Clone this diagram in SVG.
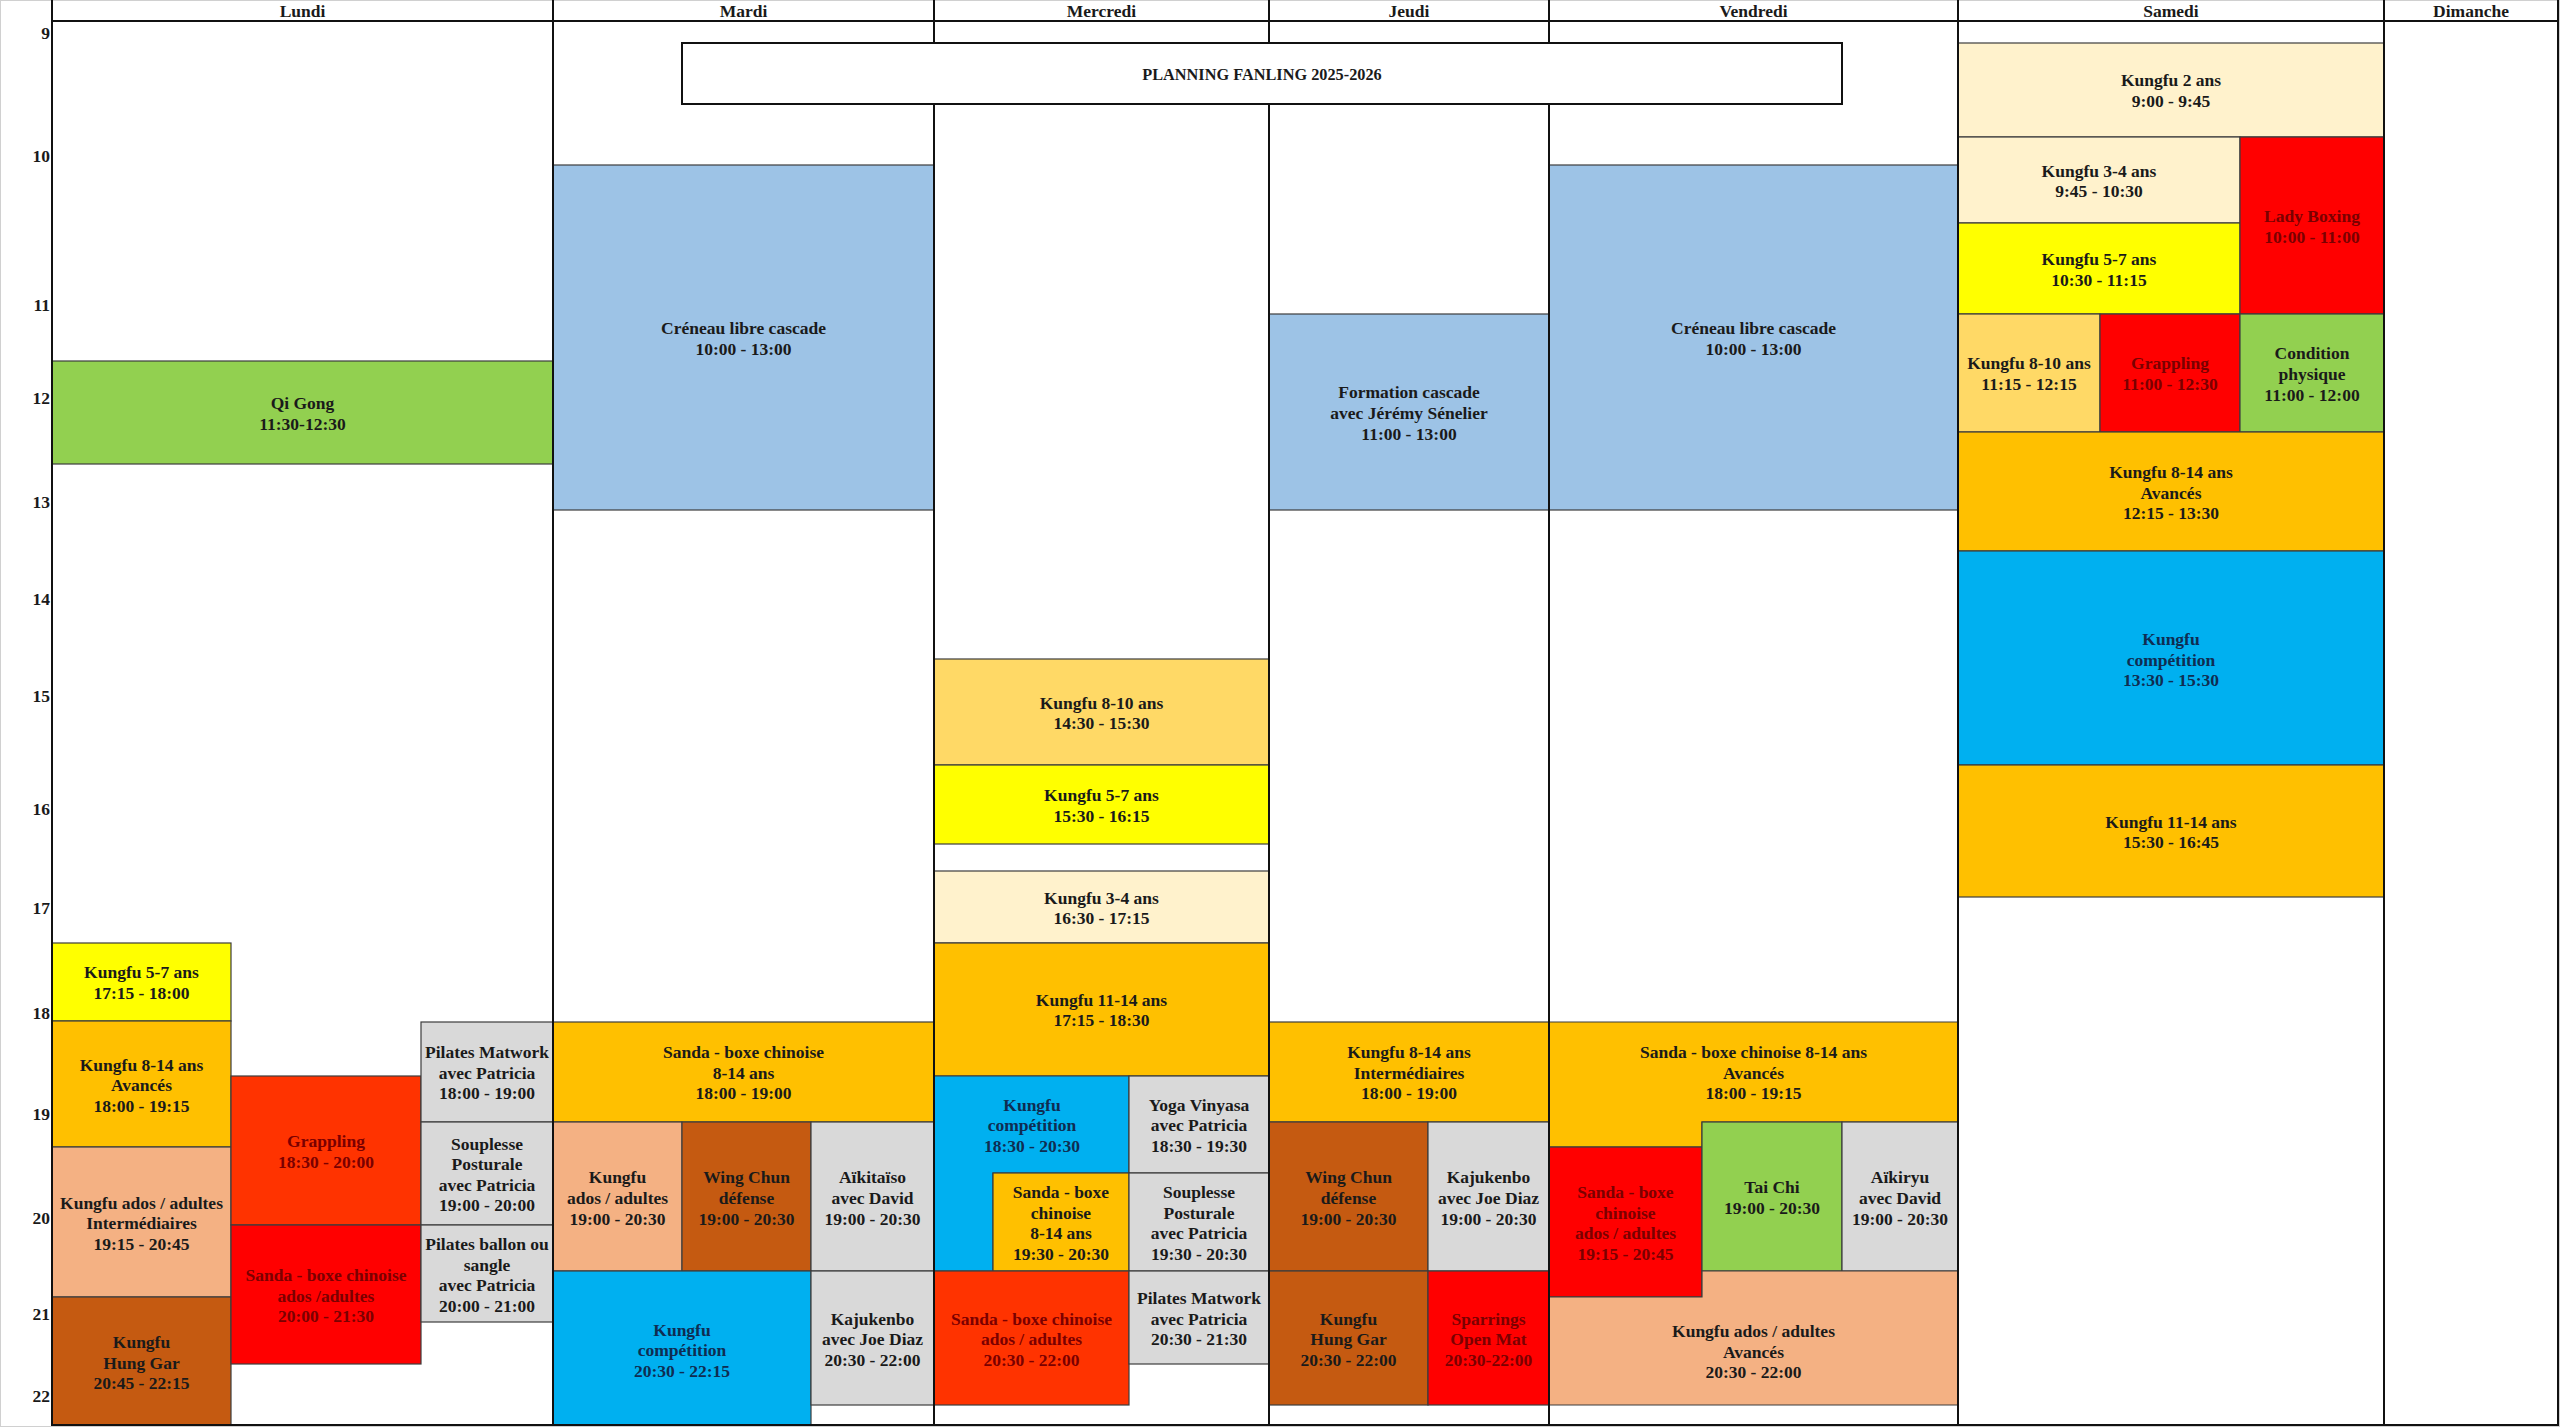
<svg xmlns="http://www.w3.org/2000/svg" width="2560" height="1427" viewBox="0 0 2560 1427">
<style>
.t{font-family:"Liberation Serif","Times New Roman",serif;font-weight:bold;font-size:17.5px;text-anchor:middle;fill:#1a1a1a}
.h{text-anchor:end}
.dr{fill:#7a0000}
.nv{fill:#0f2d52}
.b{stroke:#3c3c3c;stroke-width:1.2}
.blue{fill:#9DC3E6}.green{fill:#92D050}.yel{fill:#FFFF00}.gold{fill:#FFC000}.lgold{fill:#FFD966}
.cream{fill:#FFF2CC}.red{fill:#FF0000}.ored{fill:#FF3300}.peach{fill:#F4B183}.brown{fill:#C55A11}
.gray{fill:#D9D9D9}.cyan{fill:#00B0F0}
.grid{stroke:#111;stroke-width:2;fill:none}
</style>
<rect x="0" y="0" width="2560" height="1427" fill="#ffffff"/>
<rect x="0.5" y="0.5" width="2559" height="1426" fill="none" stroke="#d0d0d0" stroke-width="1"/>

<g id="hours" class="t">
<text class="t h" x="50" y="39">9</text>
<text class="t h" x="50" y="162">10</text>
<text class="t h" x="50" y="311">11</text>
<text class="t h" x="50" y="404">12</text>
<text class="t h" x="50" y="508">13</text>
<text class="t h" x="50" y="605">14</text>
<text class="t h" x="50" y="702">15</text>
<text class="t h" x="50" y="815">16</text>
<text class="t h" x="50" y="914">17</text>
<text class="t h" x="50" y="1019">18</text>
<text class="t h" x="50" y="1120">19</text>
<text class="t h" x="50" y="1224">20</text>
<text class="t h" x="50" y="1320">21</text>
<text class="t h" x="50" y="1402">22</text>
</g>

<g id="headers">
<text class="t" x="302.5" y="17">Lundi</text>
<text class="t" x="743.5" y="17">Mardi</text>
<text class="t" x="1101.5" y="17">Mercredi</text>
<text class="t" x="1409" y="17">Jeudi</text>
<text class="t" x="1753.5" y="17">Vendredi</text>
<text class="t" x="2171" y="17">Samedi</text>
<text class="t" x="2471" y="17">Dimanche</text>
</g>

<!-- Lundi -->
<g id="l-qigong"><rect class="green b" x="52" y="361" width="501" height="103"/>
<text class="t"><tspan x="302.5" y="409">Qi Gong</tspan><tspan x="302.5" y="430">11:30-12:30</tspan></text></g>
<g id="l-kungfu57"><rect class="yel b" x="52" y="943" width="179" height="78"/>
<text class="t"><tspan x="141.5" y="978">Kungfu 5-7 ans</tspan><tspan x="141.5" y="999">17:15 - 18:00</tspan></text></g>
<g id="l-kungfu814"><rect class="gold b" x="52" y="1021" width="179" height="126"/>
<text class="t"><tspan x="141.5" y="1071">Kungfu 8-14 ans</tspan><tspan x="141.5" y="1091">Avancés</tspan><tspan x="141.5" y="1112">18:00 - 19:15</tspan></text></g>
<g id="l-kungfu-inter"><rect class="peach b" x="52" y="1147" width="179" height="150"/>
<text class="t"><tspan x="141.5" y="1209">Kungfu ados / adultes</tspan><tspan x="141.5" y="1229">Intermédiaires</tspan><tspan x="141.5" y="1250">19:15 - 20:45</tspan></text></g>
<g id="l-hunggar"><rect class="brown b" x="52" y="1297" width="179" height="128"/>
<text class="t"><tspan x="141.5" y="1348">Kungfu</tspan><tspan x="141.5" y="1369">Hung Gar</tspan><tspan x="141.5" y="1389">20:45 - 22:15</tspan></text></g>
<g id="l-grappling"><rect class="ored b" x="231" y="1076" width="190" height="149"/>
<text class="t dr"><tspan x="326" y="1147">Grappling</tspan><tspan x="326" y="1168">18:30 - 20:00</tspan></text></g>
<g id="l-sanda"><rect class="red b" x="231" y="1225" width="190" height="139"/>
<text class="t dr"><tspan x="326" y="1281">Sanda - boxe chinoise</tspan><tspan x="326" y="1302">ados /adultes</tspan><tspan x="326" y="1322">20:00 - 21:30</tspan></text></g>
<g id="l-pilates1"><rect class="gray b" x="421" y="1022" width="132" height="100"/>
<text class="t"><tspan x="487" y="1058">Pilates Matwork</tspan><tspan x="487" y="1079">avec Patricia</tspan><tspan x="487" y="1099">18:00 - 19:00</tspan></text></g>
<g id="l-souplesse"><rect class="gray b" x="421" y="1122" width="132" height="103"/>
<text class="t"><tspan x="487" y="1150">Souplesse</tspan><tspan x="487" y="1170">Posturale</tspan><tspan x="487" y="1191">avec Patricia</tspan><tspan x="487" y="1211">19:00 - 20:00</tspan></text></g>
<g id="l-pilates2"><rect class="gray b" x="421" y="1225" width="132" height="97"/>
<text class="t"><tspan x="487" y="1250">Pilates ballon ou</tspan><tspan x="487" y="1271">sangle</tspan><tspan x="487" y="1291">avec Patricia</tspan><tspan x="487" y="1312">20:00 - 21:00</tspan></text></g>

<!-- Mardi -->
<g id="ma-creneau"><rect class="blue b" x="553" y="165" width="381" height="345"/>
<text class="t"><tspan x="743.5" y="334">Créneau libre cascade</tspan><tspan x="743.5" y="355">10:00 - 13:00</tspan></text></g>
<g id="ma-sanda"><rect class="gold b" x="553" y="1022" width="381" height="100"/>
<text class="t"><tspan x="743.5" y="1058">Sanda - boxe chinoise</tspan><tspan x="743.5" y="1079">8-14 ans</tspan><tspan x="743.5" y="1099">18:00 - 19:00</tspan></text></g>
<g id="ma-kungfu-adultes"><rect class="peach b" x="553" y="1122" width="129" height="149"/>
<text class="t"><tspan x="617.5" y="1183">Kungfu</tspan><tspan x="617.5" y="1204">ados / adultes</tspan><tspan x="617.5" y="1225">19:00 - 20:30</tspan></text></g>
<g id="ma-wingchun"><rect class="brown b" x="682" y="1122" width="129" height="149"/>
<text class="t"><tspan x="746.5" y="1183">Wing Chun</tspan><tspan x="746.5" y="1204">défense</tspan><tspan x="746.5" y="1225">19:00 - 20:30</tspan></text></g>
<g id="ma-aikitaiso"><rect class="gray b" x="811" y="1122" width="123" height="149"/>
<text class="t"><tspan x="872.5" y="1183">Aïkitaïso</tspan><tspan x="872.5" y="1204">avec David</tspan><tspan x="872.5" y="1225">19:00 - 20:30</tspan></text></g>
<g id="ma-competition"><rect class="cyan b" x="553" y="1271" width="258" height="154"/>
<text class="t nv"><tspan x="682" y="1336">Kungfu</tspan><tspan x="682" y="1356">compétition</tspan><tspan x="682" y="1377">20:30 - 22:15</tspan></text></g>
<g id="ma-kajukenbo"><rect class="gray b" x="811" y="1271" width="123" height="134"/>
<text class="t"><tspan x="872.5" y="1325">Kajukenbo</tspan><tspan x="872.5" y="1345">avec Joe Diaz</tspan><tspan x="872.5" y="1366">20:30 - 22:00</tspan></text></g>

<!-- Mercredi -->
<g id="me-kungfu810"><rect class="lgold b" x="934" y="659" width="335" height="106"/>
<text class="t"><tspan x="1101.5" y="709">Kungfu 8-10 ans</tspan><tspan x="1101.5" y="729">14:30 - 15:30</tspan></text></g>
<g id="me-kungfu57"><rect class="yel b" x="934" y="765" width="335" height="79"/>
<text class="t"><tspan x="1101.5" y="801">Kungfu 5-7 ans</tspan><tspan x="1101.5" y="822">15:30 - 16:15</tspan></text></g>
<g id="me-kungfu34"><rect class="cream b" x="934" y="871" width="335" height="72"/>
<text class="t"><tspan x="1101.5" y="904">Kungfu 3-4 ans</tspan><tspan x="1101.5" y="924">16:30 - 17:15</tspan></text></g>
<g id="me-kungfu1114"><rect class="gold b" x="934" y="943" width="335" height="133"/>
<text class="t"><tspan x="1101.5" y="1006">Kungfu 11-14 ans</tspan><tspan x="1101.5" y="1026">17:15 - 18:30</tspan></text></g>
<g id="me-competition"><path class="cyan b" d="M934,1076 H1129 V1173 H993 V1271 H934 Z"/>
<text class="t nv"><tspan x="1032" y="1111">Kungfu</tspan><tspan x="1032" y="1131">compétition</tspan><tspan x="1032" y="1152">18:30 - 20:30</tspan></text></g>
<g id="me-yoga"><rect class="gray b" x="1129" y="1076" width="140" height="97"/>
<text class="t"><tspan x="1199" y="1111">Yoga Vinyasa</tspan><tspan x="1199" y="1131">avec Patricia</tspan><tspan x="1199" y="1152">18:30 - 19:30</tspan></text></g>
<g id="me-sanda814"><rect class="gold b" x="993" y="1173" width="136" height="98"/>
<text class="t"><tspan x="1061" y="1198">Sanda - boxe</tspan><tspan x="1061" y="1219">chinoise</tspan><tspan x="1061" y="1239">8-14 ans</tspan><tspan x="1061" y="1260">19:30 - 20:30</tspan></text></g>
<g id="me-souplesse"><rect class="gray b" x="1129" y="1173" width="140" height="98"/>
<text class="t"><tspan x="1199" y="1198">Souplesse</tspan><tspan x="1199" y="1219">Posturale</tspan><tspan x="1199" y="1239">avec Patricia</tspan><tspan x="1199" y="1260">19:30 - 20:30</tspan></text></g>
<g id="me-sanda-adultes"><rect class="ored b" x="934" y="1271" width="195" height="134"/>
<text class="t dr"><tspan x="1031.5" y="1325">Sanda - boxe chinoise</tspan><tspan x="1031.5" y="1345">ados / adultes</tspan><tspan x="1031.5" y="1366">20:30 - 22:00</tspan></text></g>
<g id="me-pilates"><rect class="gray b" x="1129" y="1271" width="140" height="93"/>
<text class="t"><tspan x="1199" y="1304">Pilates Matwork</tspan><tspan x="1199" y="1325">avec Patricia</tspan><tspan x="1199" y="1345">20:30 - 21:30</tspan></text></g>

<!-- Jeudi -->
<g id="je-formation"><rect class="blue b" x="1269" y="314" width="280" height="196"/>
<text class="t"><tspan x="1409" y="398">Formation cascade</tspan><tspan x="1409" y="419">avec Jérémy Sénelier</tspan><tspan x="1409" y="440">11:00 - 13:00</tspan></text></g>
<g id="je-kungfu814"><rect class="gold b" x="1269" y="1022" width="280" height="100"/>
<text class="t"><tspan x="1409" y="1058">Kungfu 8-14 ans</tspan><tspan x="1409" y="1079">Intermédiaires</tspan><tspan x="1409" y="1099">18:00 - 19:00</tspan></text></g>
<g id="je-wingchun"><rect class="brown b" x="1269" y="1122" width="159" height="149"/>
<text class="t"><tspan x="1348.5" y="1183">Wing Chun</tspan><tspan x="1348.5" y="1204">défense</tspan><tspan x="1348.5" y="1225">19:00 - 20:30</tspan></text></g>
<g id="je-kajukenbo"><rect class="gray b" x="1428" y="1122" width="121" height="149"/>
<text class="t"><tspan x="1488.5" y="1183">Kajukenbo</tspan><tspan x="1488.5" y="1204">avec Joe Diaz</tspan><tspan x="1488.5" y="1225">19:00 - 20:30</tspan></text></g>
<g id="je-hunggar"><rect class="brown b" x="1269" y="1271" width="159" height="134"/>
<text class="t"><tspan x="1348.5" y="1325">Kungfu</tspan><tspan x="1348.5" y="1345">Hung Gar</tspan><tspan x="1348.5" y="1366">20:30 - 22:00</tspan></text></g>
<g id="je-sparrings"><rect class="red b" x="1428" y="1271" width="121" height="134"/>
<text class="t dr"><tspan x="1488.5" y="1325">Sparrings</tspan><tspan x="1488.5" y="1345">Open Mat</tspan><tspan x="1488.5" y="1366">20:30-22:00</tspan></text></g>

<!-- Vendredi -->
<g id="ve-creneau"><rect class="blue b" x="1549" y="165" width="409" height="345"/>
<text class="t"><tspan x="1753.5" y="334">Créneau libre cascade</tspan><tspan x="1753.5" y="355">10:00 - 13:00</tspan></text></g>
<g id="ve-sanda814"><path class="gold b" d="M1549,1022 H1958 V1122 H1702 V1147 H1549 Z"/>
<text class="t"><tspan x="1753.5" y="1058">Sanda - boxe chinoise 8-14 ans</tspan><tspan x="1753.5" y="1079">Avancés</tspan><tspan x="1753.5" y="1099">18:00 - 19:15</tspan></text></g>
<g id="ve-sanda-adultes"><rect class="red b" x="1549" y="1147" width="153" height="150"/>
<text class="t dr"><tspan x="1625.5" y="1198">Sanda - boxe</tspan><tspan x="1625.5" y="1219">chinoise</tspan><tspan x="1625.5" y="1239">ados / adultes</tspan><tspan x="1625.5" y="1260">19:15 - 20:45</tspan></text></g>
<g id="ve-taichi"><rect class="green b" x="1702" y="1122" width="140" height="149"/>
<text class="t"><tspan x="1772" y="1193">Tai Chi</tspan><tspan x="1772" y="1214">19:00 - 20:30</tspan></text></g>
<g id="ve-aikiryu"><rect class="gray b" x="1842" y="1122" width="116" height="149"/>
<text class="t"><tspan x="1900" y="1183">Aïkiryu</tspan><tspan x="1900" y="1204">avec David</tspan><tspan x="1900" y="1225">19:00 - 20:30</tspan></text></g>
<g id="ve-kungfu-avances"><path class="peach b" d="M1702,1271 H1958 V1405 H1549 V1297 H1702 Z"/>
<text class="t"><tspan x="1753.5" y="1337">Kungfu ados / adultes</tspan><tspan x="1753.5" y="1358">Avancés</tspan><tspan x="1753.5" y="1378">20:30 - 22:00</tspan></text></g>

<!-- Samedi -->
<g id="sa-kungfu2"><rect class="cream b" x="1958" y="43" width="426" height="94"/>
<text class="t"><tspan x="2171" y="86">Kungfu 2 ans</tspan><tspan x="2171" y="107">9:00 - 9:45</tspan></text></g>
<g id="sa-kungfu34"><rect class="cream b" x="1958" y="137" width="282" height="86"/>
<text class="t"><tspan x="2099" y="177">Kungfu 3-4 ans</tspan><tspan x="2099" y="197">9:45 - 10:30</tspan></text></g>
<g id="sa-kungfu57"><rect class="yel b" x="1958" y="223" width="282" height="91"/>
<text class="t"><tspan x="2099" y="265">Kungfu 5-7 ans</tspan><tspan x="2099" y="286">10:30 - 11:15</tspan></text></g>
<g id="sa-ladyboxing"><rect class="red b" x="2240" y="137" width="144" height="177"/>
<text class="t dr"><tspan x="2312" y="222">Lady Boxing</tspan><tspan x="2312" y="243">10:00 - 11:00</tspan></text></g>
<g id="sa-kungfu810"><rect class="lgold b" x="1958" y="314" width="142" height="118"/>
<text class="t"><tspan x="2029" y="369">Kungfu 8-10 ans</tspan><tspan x="2029" y="390">11:15 - 12:15</tspan></text></g>
<g id="sa-grappling"><rect class="red b" x="2100" y="314" width="140" height="118"/>
<text class="t dr"><tspan x="2170" y="369">Grappling</tspan><tspan x="2170" y="390">11:00 - 12:30</tspan></text></g>
<g id="sa-condition"><rect class="green b" x="2240" y="314" width="144" height="118"/>
<text class="t"><tspan x="2312" y="359">Condition</tspan><tspan x="2312" y="380">physique</tspan><tspan x="2312" y="401">11:00 - 12:00</tspan></text></g>
<g id="sa-kungfu814"><rect class="gold b" x="1958" y="432" width="426" height="119"/>
<text class="t"><tspan x="2171" y="478">Kungfu 8-14 ans</tspan><tspan x="2171" y="499">Avancés</tspan><tspan x="2171" y="519">12:15 - 13:30</tspan></text></g>
<g id="sa-competition"><rect class="cyan b" x="1958" y="551" width="426" height="214"/>
<text class="t nv"><tspan x="2171" y="645">Kungfu</tspan><tspan x="2171" y="666">compétition</tspan><tspan x="2171" y="686">13:30 - 15:30</tspan></text></g>
<g id="sa-kungfu1114"><rect class="gold b" x="1958" y="765" width="426" height="132"/>
<text class="t"><tspan x="2171" y="828">Kungfu 11-14 ans</tspan><tspan x="2171" y="848">15:30 - 16:45</tspan></text></g>

<g id="grid" class="grid">
<line x1="52" y1="0" x2="52" y2="1426"/>
<line x1="553" y1="0" x2="553" y2="1426"/>
<line x1="934" y1="0" x2="934" y2="1426"/>
<line x1="1269" y1="0" x2="1269" y2="1426"/>
<line x1="1549" y1="0" x2="1549" y2="1426"/>
<line x1="1958" y1="0" x2="1958" y2="1426"/>
<line x1="2384" y1="0" x2="2384" y2="1426"/>
<line x1="2558" y1="0" x2="2558" y2="1426"/>
<line x1="51" y1="21" x2="2559" y2="21"/>
<line x1="51" y1="1425" x2="2559" y2="1425"/>
</g>

<g id="title">
<rect x="682" y="43" width="1160" height="61" fill="#ffffff" stroke="#111" stroke-width="2"/>
<text class="t" style="font-size:16.3px" x="1262" y="80">PLANNING FANLING 2025-2026</text>
</g>
</svg>
